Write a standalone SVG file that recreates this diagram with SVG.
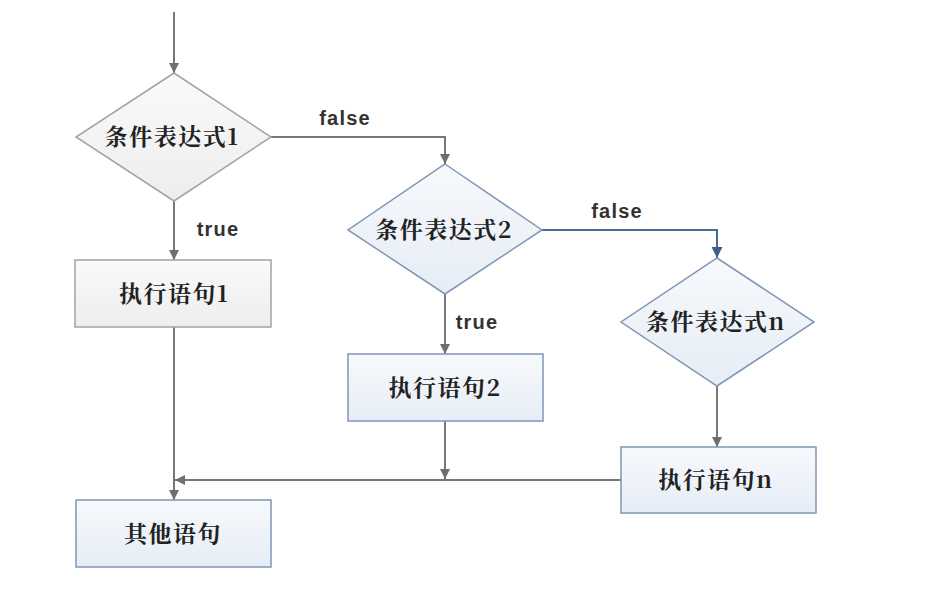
<svg xmlns="http://www.w3.org/2000/svg" width="931" height="596" viewBox="0 0 931 596">
<defs>
<linearGradient id="gGray" x1="0" y1="0" x2="0" y2="1"><stop offset="0" stop-color="#fafafa"/><stop offset="1" stop-color="#ededed"/></linearGradient>
<linearGradient id="gBlue" x1="0" y1="0" x2="0" y2="1"><stop offset="0" stop-color="#f7f9fc"/><stop offset="1" stop-color="#e6edf6"/></linearGradient>
<marker id="ag" viewBox="0 0 10 10" refX="10" refY="5" markerWidth="10" markerHeight="10" markerUnits="userSpaceOnUse" orient="auto"><path d="M0,0 L10,5 L0,10 z" fill="#6e6e6e"/></marker>
<marker id="ab" viewBox="0 0 10 10" refX="10" refY="5" markerWidth="11" markerHeight="11" markerUnits="userSpaceOnUse" orient="auto"><path d="M0,0 L10,5 L0,10 z" fill="#3f5f86"/></marker>
</defs>
<style>
.cn{font-family:"Noto Serif CJK SC","Noto Sans CJK SC",serif;font-weight:bold;font-size:23px;fill:#222;letter-spacing:1.5px}
.lb{font-family:"Liberation Sans",Arial,sans-serif;font-weight:bold;font-size:20px;fill:#333;letter-spacing:1.2px}
.ln{fill:none;stroke:#777;stroke-width:2}
.lnb{fill:none;stroke:#4a6a92;stroke-width:2}
.gray{fill:url(#gGray);stroke:#a3a3a3;stroke-width:1.5}
.blue{fill:url(#gBlue);stroke:#7f97b5;stroke-width:1.5}
</style>
<rect width="931" height="596" fill="#fff"/>
<g id="connectors">
<path class="ln" d="M174,12 V73" marker-end="url(#ag)"/>
<path class="ln" d="M271,137 H445 V164" marker-end="url(#ag)"/>
<path class="ln" d="M174,201 V260" marker-end="url(#ag)"/>
<path class="lnb" d="M542,230 H717 V258" marker-end="url(#ab)"/>
<path class="ln" d="M445,294 V354" marker-end="url(#ag)"/>
<path class="ln" d="M717,386 V447" marker-end="url(#ag)"/>
<path class="ln" d="M174,327 V500" marker-end="url(#ag)"/>
<path class="ln" d="M445,421 V479" marker-end="url(#ag)"/>
<path class="ln" d="M621,480 H175" marker-end="url(#ag)"/>
<text class="lb" x="345" y="125" text-anchor="middle">false</text>
<text class="lb" x="617" y="218" text-anchor="middle">false</text>
<text class="lb" x="218" y="236" text-anchor="middle">true</text>
<text class="lb" x="477" y="329" text-anchor="middle">true</text>
</g>
<g id="cond1"><polygon class="gray" points="174,73 271,137 174,201 76,137"/><text class="cn" x="172" y="145" text-anchor="middle">条件表达式1</text></g>
<g id="stmt1"><rect class="gray" x="75" y="260" width="196" height="67"/><text class="cn" x="174" y="302" text-anchor="middle">执行语句1</text></g>
<g id="cond2"><polygon class="blue" points="445,164 542,230 445,294 348,230"/><text class="cn" x="444" y="238" text-anchor="middle">条件表达式2</text></g>
<g id="stmt2"><rect class="blue" x="348" y="354" width="195" height="67"/><text class="cn" x="445" y="396" text-anchor="middle">执行语句2</text></g>
<g id="condn"><polygon class="blue" points="717,258 814,322 717,386 621,322"/><text class="cn" x="716" y="330" text-anchor="middle">条件表达式n</text></g>
<g id="stmtn"><rect class="blue" x="621" y="447" width="195" height="66"/><text class="cn" x="716" y="488" text-anchor="middle">执行语句n</text></g>
<g id="other"><rect class="blue" x="76" y="500" width="195" height="67"/><text class="cn" x="173" y="542" text-anchor="middle">其他语句</text></g>
</svg>
